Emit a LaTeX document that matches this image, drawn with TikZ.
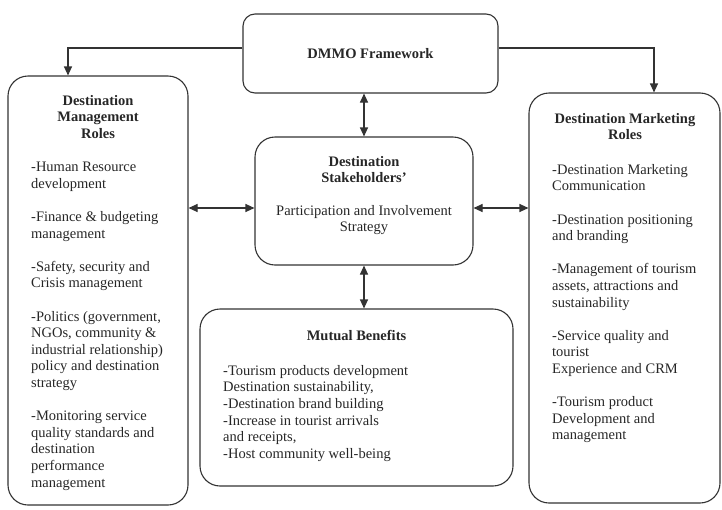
\documentclass[tikz,border=0pt]{standalone}
\usepackage{fontspec}
\setmainfont{Liberation Serif}
\usetikzlibrary{arrows.meta}

\tikzset{
    box/.style={draw=black!80, line width=1.1pt, rounded corners=20pt},
    txt/.style={text=black!85, inner sep=0pt, font=\fontsize{14.5}{16.6}\selectfont},
    arr/.style={draw=black!80, line width=1.1pt, -{Triangle[length=9pt,width=8pt]}},
    dbl/.style={draw=black!80, line width=1.1pt, {Triangle[length=9pt,width=8pt]}-{Triangle[length=9pt,width=8pt]}}
}

\begin{document}
\begin{tikzpicture}[x=1pt, y=-1pt]

\useasboundingbox (0,0) rectangle (722,509);

\node[box, rounded corners=12pt, minimum width=255pt, minimum height=79pt, txt, font=\fontsize{14.5}{16.6}\selectfont\bfseries] (dmmo) at (370.5,53.5) {DMMO Framework};

\node[box, minimum width=180pt, minimum height=429pt] (mgmt) at (98,290.5) {};

\node[box, minimum width=191pt, minimum height=410pt] (mktg) at (624.5,298) {};

\node[box, minimum width=218pt, minimum height=128pt] (stake) at (364,201) {};

\node[box, minimum width=313pt, minimum height=177pt] (mutual) at (356.5,397.5) {};

% box texts
\node[txt, align=center, anchor=north, font=\fontsize{14.5}{16.6}\selectfont\bfseries] (mgmttitle) at (98,95) {Destination\\Management\\Roles};

\node[txt, align=left, anchor=north west] (mgmtitems) at (31,162) {-Human Resource\\development\\[16.6pt]-Finance \& budgeting\\management\\[16.6pt]-Safety, security and\\Crisis management\\[16.6pt]-Politics (government,\\NGOs, community \&\\industrial relationship)\\policy and destination\\strategy\\[16.6pt]-Monitoring service\\quality standards and\\destination\\performance\\management};

\node[txt, align=center, anchor=north, font=\fontsize{14.5}{16.6}\selectfont\bfseries] (mktgtitle) at (625,113) {Destination Marketing\\Roles};

\node[txt, align=left, anchor=north west] (mktgitems) at (552,164) {-Destination Marketing\\Communication\\[16.6pt]-Destination positioning\\and branding\\[16.6pt]-Management of tourism\\assets, attractions and\\sustainability\\[16.6pt]-Service quality and\\tourist\\Experience and CRM\\[16.6pt]-Tourism product\\Development and\\management};

\node[txt, align=center, anchor=north, font=\fontsize{14.5}{16.6}\selectfont\bfseries] (staketitle) at (364,156) {Destination\\Stakeholders'};

\node[txt, align=center, anchor=north] (stakebody) at (364,205) {Participation and Involvement\\Strategy};

\node[txt, anchor=north, font=\fontsize{14.5}{16.6}\selectfont\bfseries] (mutualtitle) at (356.5,330) {Mutual Benefits};

\node[txt, align=left, anchor=north west] (mutualitems) at (223,365) {-Tourism products development\\Destination sustainability,\\-Destination brand building\\-Increase in tourist arrivals\\and receipts,\\-Host community well-being};

% connectors
\coordinate (toprow) at (0,48);
\coordinate (midrow) at (0,208);

\draw[arr] (dmmo.west |- toprow) -| ([xshift=-30pt]mgmt.north);

\draw[arr] (dmmo.east |- toprow) -| ([xshift=29.5pt]mktg.north);

\draw[dbl] (stake.north |- dmmo.south) -- (stake.north);

\draw[dbl] (stake.south) -- (stake.south |- mutual.north);

\draw[dbl] (mgmt.east |- midrow) -- (stake.west |- midrow);

\draw[dbl] (stake.east |- midrow) -- (mktg.west |- midrow);

\end{tikzpicture}
\end{document}
